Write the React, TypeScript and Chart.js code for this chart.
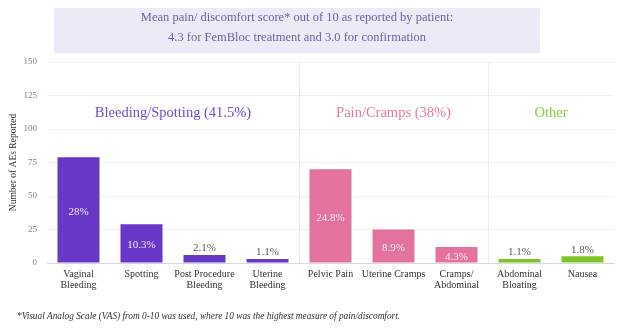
import React, { useEffect, useRef } from "react";
import { Chart, registerables } from "chart.js";

Chart.register(...registerables);

// ---------- data ----------
const categories: (string | string[])[] = [
  ["Vaginal", "Bleeding"],
  "Spotting",
  ["Post Procedure", "Bleeding"],
  ["Uterine", "Bleeding"],
  "Pelvic Pain",
  "Uterine Cramps",
  ["Cramps/", "Abdominal"],
  ["Abdominal", "Bloating"],
  "Nausea",
];
const counts = [79, 29, 6, 3, 70, 25, 12, 3, 5];
const percentLabels = ["28%", "10.3%", "2.1%", "1.1%", "24.8%", "8.9%", "4.3%", "1.1%", "1.8%"];

const groupNames = ["Bleeding/Spotting (41.5%)", "Pain/Cramps (38%)", "Other"];
const groupSizes = [4, 3, 2];
const groupBarColors = ["#6837c7", "#e3729e", "#7cc428"];
const groupTextColors = ["#7548cc", "#e8789f", "#8cc63c"];

const yTicks = [0, 25, 50, 75, 100, 125, 150];
const yAxisTitle = "Number of AEs Reported";
const titleLines = [
  "Mean pain/ discomfort score* out of 10 as reported by patient:",
  "4.3 for FemBloc treatment and 3.0 for confirmation",
];
const footnote =
  "*Visual Analog Scale (VAS) from 0-10 was used, where 10 was the highest measure of pain/discomfort.";

const groupLabelLevel = 112; // value level where group names sit
const insideThreshold = 10; // bars at or above this count carry labels inside

const FONT = "'Liberation Serif', 'Times New Roman', serif";

function groupOf(i: number): number {
  let acc = 0;
  for (let g = 0; g < groupSizes.length; g++) {
    acc += groupSizes[g];
    if (i < acc) return g;
  }
  return groupSizes.length - 1;
}

export default function App() {
  const ref = useRef<HTMLCanvasElement>(null);

  useEffect(() => {
    const canvas = ref.current;
    if (!canvas) return;

    const barColors = counts.map((_, i) => groupBarColors[groupOf(i)]);

    const decor = {
      id: "decor",
      beforeDraw(chart: any) {
        const { ctx } = chart;
        ctx.save();
        ctx.fillStyle = "#ffffff";
        ctx.fillRect(0, 0, chart.width, chart.height);
        // title box
        ctx.fillStyle = "#ebebf7";
        ctx.fillRect(54, 8, 486, 45);
        ctx.fillStyle = "#6a63a6";
        ctx.font = `12.5px ${FONT}`;
        ctx.textAlign = "center";
        ctx.textBaseline = "middle";
        ctx.fillText(titleLines[0], 297, 18);
        ctx.fillText(titleLines[1], 297, 38);
        ctx.restore();
      },
      beforeDatasetsDraw(chart: any) {
        const { ctx, chartArea } = chart;
        const xs = chart.scales.x;
        ctx.save();
        ctx.strokeStyle = "#ebebeb";
        ctx.lineWidth = 1;
        let idx = 0;
        for (let g = 0; g < groupSizes.length - 1; g++) {
          idx += groupSizes[g];
          const px = Math.round((xs.getPixelForValue(idx - 1) + xs.getPixelForValue(idx)) / 2) + 0.5;
          ctx.beginPath();
          ctx.moveTo(px, chartArea.top);
          ctx.lineTo(px, chartArea.bottom);
          ctx.stroke();
        }
        ctx.restore();
      },
      afterDatasetsDraw(chart: any) {
        const { ctx } = chart;
        const xs = chart.scales.x;
        const ys = chart.scales.y;
        const meta = chart.getDatasetMeta(0);
        ctx.save();
        ctx.textAlign = "center";
        ctx.font = `11px ${FONT}`;
        meta.data.forEach((bar: any, i: number) => {
          const { x, y, base } = bar.getProps(["x", "y", "base"], true);
          if (counts[i] >= insideThreshold) {
            ctx.fillStyle = "#f1eafc";
            ctx.textBaseline = "middle";
            ctx.fillText(percentLabels[i], x, (y + base) / 2 + 2);
          } else {
            ctx.fillStyle = "#595959";
            ctx.textBaseline = "bottom";
            ctx.fillText(percentLabels[i], x, y - 1);
          }
        });
        // group labels
        ctx.font = `14.5px ${FONT}`;
        ctx.textBaseline = "middle";
        let start = 0;
        for (let g = 0; g < groupSizes.length; g++) {
          const end = start + groupSizes[g] - 1;
          const cx = (xs.getPixelForValue(start) + xs.getPixelForValue(end)) / 2;
          ctx.fillStyle = groupTextColors[g];
          ctx.fillText(groupNames[g], cx, ys.getPixelForValue(groupLabelLevel));
          start = end + 1;
        }
        // footnote
        ctx.font = `italic 9.3px ${FONT}`;
        ctx.fillStyle = "#333333";
        ctx.textAlign = "left";
        ctx.textBaseline = "middle";
        ctx.fillText(footnote, 17, 317);
        ctx.restore();
      },
    };

    const chart = new Chart(canvas, {
      type: "bar",
      data: {
        labels: categories,
        datasets: [
          {
            data: counts,
            backgroundColor: barColors,
            borderWidth: 0,
            barPercentage: 0.667,
            categoryPercentage: 1,
          },
        ],
      },
      options: {
        responsive: false,
        animation: false,
        devicePixelRatio: 1,
        layout: { padding: { top: 62, right: 7, left: 0, bottom: 0 } },
        plugins: {
          legend: { display: false },
          title: { display: false },
          tooltip: { enabled: false },
        },
        scales: {
          x: {
            grid: { display: false, drawTicks: false },
            border: { display: true, color: "#d9d9d9", width: 1 },
            ticks: {
              color: "#333333",
              font: { family: FONT, size: 10, lineHeight: 1.1 },
              maxRotation: 0,
              autoSkip: false,
              padding: 6,
            },
            afterFit(scale: any) {
              scale.height = 72;
            },
          },
          y: {
            min: 0,
            max: 150,
            afterBuildTicks(scale: any) {
              scale.ticks = yTicks.map((v) => ({ value: v }));
            },
            grid: { color: "#f0f0f0", drawTicks: false },
            border: { display: false },
            ticks: {
              color: "#808080",
              font: { family: FONT, size: 9 },
              padding: 10,
            },
            title: {
              display: true,
              text: yAxisTitle,
              color: "#333333",
              font: { family: FONT, size: 9.5 },
              padding: { top: 8, bottom: 0 },
            },
            afterFit(scale: any) {
              scale.width = 47;
            },
          },
        },
      },
      plugins: [decor],
    });

    return () => chart.destroy();
  }, []);

  return (
    <div
      style={{
        position: "fixed",
        left: 0,
        top: 0,
        width: 621,
        height: 335,
        background: "#ffffff",
      }}
    >
      <canvas ref={ref} width={621} height={335} style={{ display: "block", width: 621, height: 335 }} />
    </div>
  );
}
